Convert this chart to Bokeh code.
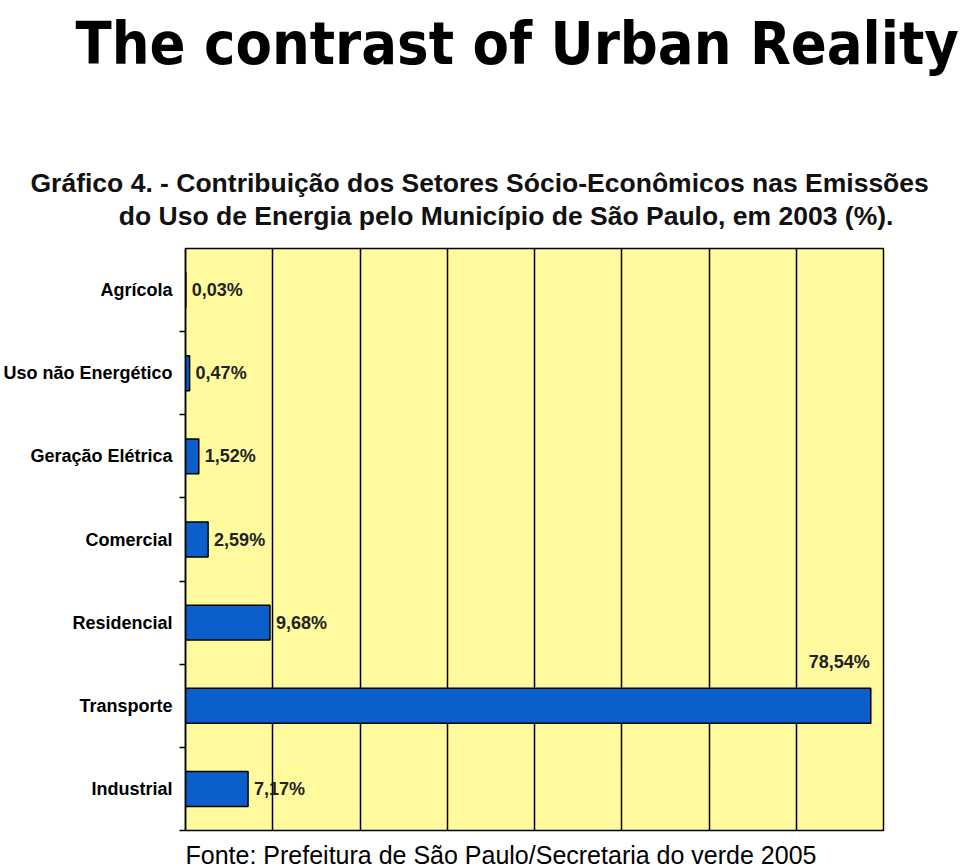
from bokeh.plotting import figure
from bokeh.models import Range1d, FixedTicker, Title, ColumnDataSource
from bokeh.core.properties import value
from bokeh.embed import file_html
from bokeh.resources import INLINE

# ---- data ----
categories = ["Agrícola", "Uso não Energético", "Geração Elétrica", "Comercial",
              "Residencial", "Transporte", "Industrial"]
values = [0.03, 0.47, 1.52, 2.59, 9.68, 78.54, 7.17]
value_labels = ["0,03%", "0,47%", "1,52%", "2,59%", "9,68%", "78,54%", "7,17%"]
x_grid = [10, 20, 30, 40, 50, 60, 70]

title_text = "The contrast of Urban Reality"
subtitle_1 = "Gráfico 4. -   Contribuição dos Setores Sócio-Econômicos nas Emissões"
subtitle_2 = "do Uso de Energia pelo Município de São Paulo, em 2003 (%)."
footer_text = "Fonte: Prefeitura de São Paulo/Secretaria do verde 2005"

# ---- geometry ----
X_MAX = 80
N = len(categories)
FW, FH = 698, 582
BL, BT = 185, 248
W, H = 960, 867

centers = [N - 0.5 - i for i in range(N)]

p = figure(width=W, height=H, output_backend="svg", toolbar_location=None,
           x_range=Range1d(0, X_MAX), y_range=Range1d(0, N),
           frame_width=FW, frame_height=FH,
           min_border_left=BL, min_border_top=BT,
           min_border_right=W - BL - FW, min_border_bottom=H - BT - FH)
p.background_fill_color = "#FFFA9E"
p.border_fill_color = "white"
p.outline_line_color = "black"
p.outline_line_width = 1.5

p.xaxis.visible = False
p.xgrid.ticker = FixedTicker(ticks=x_grid)
p.xgrid.grid_line_color = "black"
p.xgrid.grid_line_width = 1.5
p.ygrid.grid_line_color = None

ax = p.yaxis[0]
ax.ticker = FixedTicker(ticks=centers, minor_ticks=list(range(0, N)))
ax.major_label_overrides = {c: cat for c, cat in zip(centers, categories)}
ax.major_tick_line_color = None
ax.major_tick_out = 0
ax.major_tick_in = 0
ax.minor_tick_line_color = "black"
ax.minor_tick_out = 6
ax.minor_tick_in = 0
ax.minor_tick_line_width = 1.5
ax.axis_line_color = "black"
ax.axis_line_width = 1.5
ax.major_label_standoff = 7
ax.major_label_text_font = "Liberation Sans"
ax.major_label_text_font_style = "bold"
ax.major_label_text_font_size = "18px"
ax.major_label_text_color = "black"

src = ColumnDataSource(dict(y=centers, v=values, lab=value_labels))
p.hbar(y="y", left=0, right="v", height=0.42, source=src,
       fill_color="#0A5FCA", line_color="black", line_width=1.5)

short = [i for i, v in enumerate(values) if v < 70]
long_ = [i for i, v in enumerate(values) if v >= 70]
s_short = ColumnDataSource(dict(x=[values[i] for i in short], y=[centers[i] for i in short],
                                t=[value_labels[i] for i in short]))
s_long = ColumnDataSource(dict(x=[values[i] for i in long_], y=[centers[i] for i in long_],
                               t=[value_labels[i] for i in long_]))
common = dict(text_font=value("Liberation Sans"), text_font_style="bold",
              text_font_size="18px", text_color="#222222", text_baseline="middle")
p.text(x="x", y="y", text="t", source=s_short, x_offset=6, text_align="left", **common)
p.text(x="x", y="y", text="t", source=s_long, x_offset=-1, y_offset=-44,
       text_align="right", **common)

# ---- titles / footer (closest to the frame first) ----
indent = "\u00a0" * 12
p.add_layout(Title(text=subtitle_1 + "\n" + indent + subtitle_2, align="left",
                   offset=30 - BL, standoff=35, text_line_height=1.1,
                   text_font="Liberation Sans", text_font_style="bold",
                   text_font_size="26.5px", text_color="#111111"), "above")
# a blank second line keeps the big title near the top of its panel
p.add_layout(Title(text=title_text + "\n\u00a0", align="left", offset=75 - BL, standoff=3,
                   text_font="DejaVu Sans Condensed, Liberation Sans", text_font_style="bold",
                   text_font_size="59px", text_color="black"), "above")
p.add_layout(Title(text=footer_text, align="left", offset=0, standoff=16,
                   text_font="Liberation Sans", text_font_style="normal",
                   text_font_size="25px", text_color="black"), "below")

open("out.html", "w").write(file_html(p, INLINE))
